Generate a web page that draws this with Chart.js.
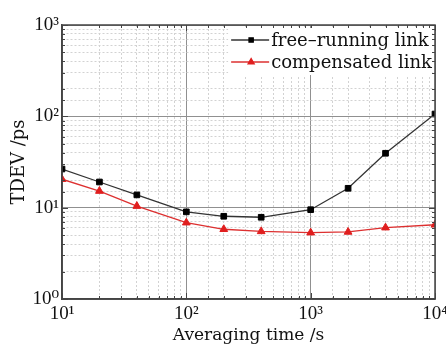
<!DOCTYPE html>
<html>
<head>
<meta charset="utf-8">
<script src="https://cdn.jsdelivr.net/npm/chart.js@4"></script>
<style>
  html, body { margin: 0; padding: 0; background: #fff; }
  #wrap { width: 446px; height: 344px; }
</style>
</head>
<body>
<div id="wrap"><canvas id="grafico"></canvas></div>
<script>
// averaging time (s) and TDEV (ps)
var tau = [10, 20, 40, 100, 200, 400, 1000, 2000, 4000, 10000];
var freeRunning = [26.5, 19.1, 13.8, 9.0, 8.05, 7.85, 9.5, 16.3, 39.4, 106];
var compensated = [20.5, 15.2, 10.4, 6.85, 5.8, 5.5, 5.32, 5.42, 6.04, 6.5];
var seriesNames = ['free\u2013running link', 'compensated link'];
var xTitle = 'Averaging time /s';
var yTitle = 'TDEV /ps';
var supDigits = {'0': '\u2070', '1': '\u00b9', '2': '\u00b2', '3': '\u00b3', '4': '\u2074'};

var serif = '"Liberation Serif", "DejaVu Serif", serif';
var wideSerif = '"DejaVu Serif", "Liberation Serif", serif';

function isDecade(v) {
    var e = Math.log10(v);
    return Math.abs(e - Math.round(e)) < 1e-9;
}
function decadeLabel(v) {
    if (!isDecade(v)) return '';
    return '10' + supDigits[String(Math.round(Math.log10(v)))];
}
function pairs(ys) {
    return tau.map(function (t, i) { return {x: t, y: ys[i]}; });
}

// box round the plot + inward ticks on all four sides
var frame = {
    id: 'frame',
    afterDatasetsDraw: function (chart) {
        var ctx = chart.ctx, a = chart.chartArea;
        var sx = chart.scales.x, sy = chart.scales.y;
        ctx.save();
        ctx.strokeStyle = '#444';
        ctx.lineWidth = 1;
        ctx.beginPath();
        sx.ticks.forEach(function (t) {
            var px = Math.round(sx.getPixelForValue(t.value)) + 0.5;
            var len = isDecade(t.value) ? 6 : 3;
            ctx.moveTo(px, a.bottom); ctx.lineTo(px, a.bottom - len);
            ctx.moveTo(px, a.top); ctx.lineTo(px, a.top + len);
        });
        sy.ticks.forEach(function (t) {
            var py = Math.round(sy.getPixelForValue(t.value)) + 0.5;
            var len = isDecade(t.value) ? 6 : 3;
            ctx.moveTo(a.left, py); ctx.lineTo(a.left + len, py);
            ctx.moveTo(a.right, py); ctx.lineTo(a.right - len, py);
        });
        ctx.stroke();
        ctx.lineWidth = 1.5;
        ctx.strokeRect(a.left, a.top, a.right - a.left, a.bottom - a.top);
        ctx.restore();
    }
};

// legend inside the top-right corner
var legendBox = {
    id: 'legendBox',
    afterDraw: function (chart) {
        var ctx = chart.ctx, a = chart.chartArea;
        ctx.save();
        ctx.font = '18px ' + wideSerif;
        var textW = 0;
        chart.data.datasets.forEach(function (ds) {
            textW = Math.max(textW, ctx.measureText(ds.label).width);
        });
        var right = a.right - 3;
        var textX = right - textW;
        var x0 = textX - 40;
        ctx.fillStyle = '#fff';
        ctx.fillRect(x0 - 3, a.top + 3, a.right - x0, 47);
        chart.data.datasets.forEach(function (ds, i) {
            var y = a.top + 15 + i * 22;
            ctx.strokeStyle = ds.borderColor;
            ctx.lineWidth = 1.3;
            ctx.beginPath();
            ctx.moveTo(x0, y); ctx.lineTo(x0 + 38, y);
            ctx.stroke();
            ctx.fillStyle = ds.pointBackgroundColor;
            ctx.strokeStyle = ds.pointBorderColor;
            Chart.helpers.drawPoint(ctx, {pointStyle: ds.pointStyle, radius: ds.pointRadius - 1, rotation: 0, borderWidth: 1}, x0 + 20, y);
            ctx.fillStyle = '#111';
            ctx.textBaseline = 'middle';
            ctx.textAlign = 'left';
            ctx.fillText(ds.label, textX, y + 1);
        });
        ctx.restore();
    }
};

function gridColor(c) { return c.tick && isDecade(c.tick.value) ? '#909090' : '#d2d2d2'; }
function gridDash(c) { return c.tick && !isDecade(c.tick.value) ? [2, 2] : []; }

var ctx = document.querySelector('#grafico').getContext('2d');
var tdevChart = new Chart(ctx, {
    type: 'line',
    data: {
        datasets: [{
            label: seriesNames[0],
            data: pairs(freeRunning),
            borderColor: '#333',
            borderWidth: 1.3,
            pointStyle: 'rect',
            pointRadius: 4,
            pointBackgroundColor: '#000',
            pointBorderColor: '#000',
            pointBorderWidth: 1
        }, {
            label: seriesNames[1],
            data: pairs(compensated),
            borderColor: '#dd3030',
            borderWidth: 1.3,
            pointStyle: 'triangle',
            pointRadius: 4.5,
            pointBackgroundColor: '#e01e1e',
            pointBorderColor: '#e01e1e',
            pointBorderWidth: 1
        }]
    },
    options: {
        responsive: true,
        maintainAspectRatio: false,
        animation: false,
        layout: { padding: { left: 0, right: 11, top: 25, bottom: 0 } },
        plugins: { legend: { display: false }, tooltip: { enabled: false } },
        scales: {
            x: {
                type: 'logarithmic',
                min: 10,
                max: 10000,
                afterFit: function (s) { s.height = 45; s.paddingRight = 0; s.paddingLeft = 0; },
                ticks: {
                    autoSkip: false,
                    maxRotation: 0,
                    padding: 4,
                    color: '#111',
                    font: { family: serif, size: 19 },
                    callback: decadeLabel
                },
                grid: { color: gridColor, lineWidth: 1, drawTicks: false },
                border: { color: '#444', width: 1.5, dash: gridDash },
                title: {
                    display: true,
                    text: xTitle,
                    color: '#111',
                    padding: { top: 0, bottom: 0 },
                    font: { family: wideSerif, size: 17, lineHeight: 1 }
                }
            },
            y: {
                type: 'logarithmic',
                min: 1,
                max: 1000,
                afterFit: function (s) { s.width = 62; },
                ticks: {
                    autoSkip: false,
                    padding: 3,
                    color: '#111',
                    font: { family: serif, size: 19 },
                    callback: decadeLabel
                },
                grid: { color: gridColor, lineWidth: 1, drawTicks: false },
                border: { color: '#444', width: 1.5, dash: gridDash },
                title: {
                    display: true,
                    text: yTitle,
                    color: '#111',
                    padding: { top: 10, bottom: 0 },
                    font: { family: wideSerif, size: 18, lineHeight: 1 }
                }
            }
        }
    },
    plugins: [frame, legendBox]
});
</script>
</body>
</html>
